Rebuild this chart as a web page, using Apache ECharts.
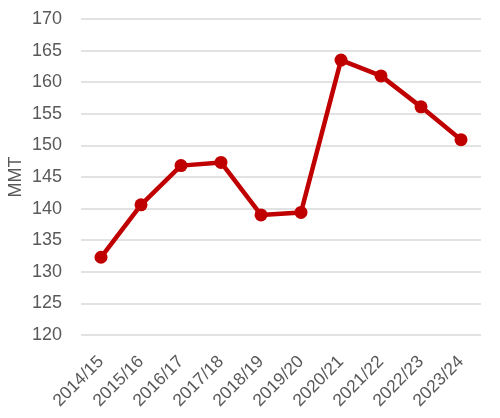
<!DOCTYPE html>
<html><head><meta charset="utf-8">
<script src="https://cdn.jsdelivr.net/npm/echarts@6/dist/echarts.min.js"></script>
<style>html,body{margin:0;padding:0;background:#fff}#c{width:500px;height:418px}</style>
</head><body><div id="c"></div>
<script>
var categories = ['2014/15','2015/16','2016/17','2017/18','2018/19','2019/20','2020/21','2021/22','2022/23','2023/24'];
var values = [132.3, 140.6, 146.8, 147.3, 139.0, 139.4, 163.5, 161.0, 156.1, 150.9];
var yMin = 120, yMax = 170, yStep = 5;
var yName = 'MMT';

var chart = echarts.init(document.getElementById('c'), null, {renderer:'canvas'});
var font = 'Liberation Sans, Arial, sans-serif';
chart.setOption({
  animation: false,
  grid: {left: 81, right: 19, top: 19, bottom: 83, containLabel: false, outerBoundsMode: 'none'},
  xAxis: {
    type: 'category', data: categories, boundaryGap: true,
    axisLine: {show: false}, axisTick: {show: false},
    axisLabel: {rotate: 45, color: '#595959', fontSize: 17.5, fontFamily: font, margin: 24, interval: 0}
  },
  yAxis: {
    type: 'value', min: yMin, max: yMax, interval: yStep,
    name: yName, nameLocation: 'middle', nameGap: 56, nameRotate: 90, nameMoveOverlap: false,
    nameTextStyle: {color: '#595959', fontSize: 18, fontFamily: font},
    axisLine: {show: false}, axisTick: {show: false},
    axisLabel: {color: '#595959', fontSize: 18, fontFamily: font, margin: 19},
    splitLine: {lineStyle: {color: '#d9d9d9', width: 1.5}}
  },
  series: [{
    type: 'line', data: values,
    lineStyle: {color: '#C00000', width: 4.5},
    itemStyle: {color: '#C00000'},
    symbol: 'circle', symbolSize: 13
  }]
});
</script></body></html>
